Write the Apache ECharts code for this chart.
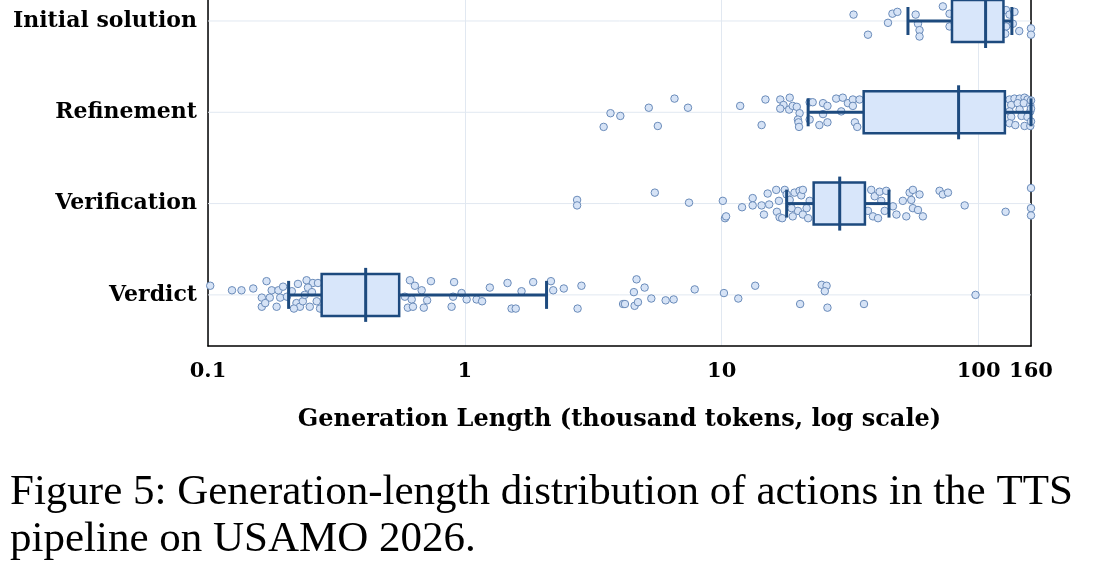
<!DOCTYPE html>
<html>
<head>
<meta charset="utf-8">
<script src="https://cdn.jsdelivr.net/npm/echarts@6/dist/echarts.min.js"></script>
<style>
    html, body { margin: 0; padding: 0; background: #fff; }
    #chart { width: 1101px; height: 567px; }
</style>
</head>
<body>
<div id="chart"></div>
<script>
// rows, bottom to top
let categories = ['Verdict', 'Verification', 'Refinement', 'Initial solution'];

// [whisker low, q1, median, q3, whisker high], thousand tokens
let verdictBox = [0.206, 0.277, 0.411, 0.555, 2.08];
let verificationBox = [17.9, 22.8, 28.8, 36.1, 44.8];
let refinementBox = [21.7, 35.7, 83.6, 126.6, 160];
let initialBox = [53.1, 78.8, 106.5, 125, 134.8];

// individual actions: [length, vertical jitter in row units]
let verdictPts = [
    [0.102, 0.10], [0.124, 0.05], [0.135, 0.05], [0.150, 0.07], [0.169, 0.15], [0.177, 0.05],
    [0.188, 0.05], [0.162, -0.03], [0.174, -0.03], [0.162, -0.13], [0.185, -0.13], [0.191, -0.03],
    [0.196, 0.09], [0.212, 0.04], [0.221, -0.09], [0.228, -0.13], [0.242, 0.16], [0.256, 0.13],
    [0.245, 0.08], [0.234, -0.07], [0.249, -0.13], [0.265, -0.07], [0.268, 0.13], [0.167, -0.09],
    [0.203, -0.02], [0.216, -0.15], [0.224, 0.12], [0.238, 0.00], [0.254, 0.03], [0.273, -0.15],
    [0.326, 0.12], [0.467, -0.11],
    [0.611, 0.16], [0.639, 0.10], [0.584, -0.02], [0.621, -0.05], [0.600, -0.14], [0.628, -0.13],
    [0.679, 0.05], [0.713, -0.06], [0.692, -0.14], [0.738, 0.15], [0.908, 0.14], [0.888, -0.13],
    [0.900, -0.02], [0.971, 0.02], [1.016, -0.05], [1.111, -0.05], [1.167, -0.07], [1.251, 0.08],
    [1.466, 0.13], [1.520, -0.15], [1.578, -0.15], [1.662, 0.04], [1.845, 0.14], [2.163, 0.15],
    [2.208, 0.05], [2.428, 0.07], [2.844, 0.10], [2.747, -0.15], [4.13, -0.10], [4.66, 0.17],
    [5.01, 0.08], [4.55, 0.03], [4.20, -0.10], [4.58, -0.12], [4.72, -0.08], [5.32, -0.04],
    [6.05, -0.06], [6.50, -0.05], [7.85, 0.06], [10.2, 0.02], [11.6, -0.04], [13.5, 0.10],
    [20.2, -0.10], [24.5, 0.11], [25.6, 0.10], [25.2, 0.04], [25.8, -0.14], [35.8, -0.10],
    [97.3, 0.00]
];
let verificationPts = [
    [2.735, 0.04], [2.735, -0.02], [5.49, 0.12], [7.46, 0.01], [10.1, 0.03], [10.3, -0.16],
    [10.4, -0.14], [12.0, -0.04], [13.2, 0.06], [13.2, -0.02], [14.3, -0.02], [14.6, -0.12],
    [15.1, 0.11], [15.3, -0.01], [16.3, 0.15], [16.4, -0.09], [16.8, -0.15], [17.2, -0.16],
    [16.7, 0.03], [17.6, 0.15], [17.9, 0.10], [18.4, 0.04], [19.2, 0.12], [20.1, 0.14],
    [20.4, 0.09], [20.7, 0.15], [19.8, -0.08], [20.7, -0.12], [21.4, -0.05], [22.0, 0.03],
    [21.7, -0.16], [18.9, -0.14], [18.7, -0.05],
    [38.2, 0.15], [39.4, 0.08], [41.2, 0.13], [37.1, -0.08], [38.8, -0.14], [40.6, -0.16],
    [43.1, -0.08], [41.8, 0.03], [43.7, 0.14], [46.4, -0.03], [47.9, -0.12], [50.7, 0.03],
    [52.3, -0.14], [53.9, 0.12], [55.5, 0.15], [58.9, 0.10], [55.5, -0.05], [58.1, -0.07],
    [60.7, -0.14], [54.7, 0.04], [70.5, 0.14], [72.6, 0.10], [76.0, 0.12], [88.3, -0.02],
    [127.4, -0.09], [160, 0.17], [160, -0.05], [160, -0.13]
];
let refinementPts = [
    [3.47, -0.16], [3.69, -0.01], [4.03, -0.04], [5.20, 0.05], [5.64, -0.15], [6.55, 0.15],
    [7.39, 0.05], [11.8, 0.07], [14.3, -0.14], [14.8, 0.14], [16.9, 0.14], [18.4, 0.16],
    [17.4, 0.08], [16.9, 0.04], [18.3, 0.03], [18.9, 0.07], [19.6, 0.06], [20.1, -0.01],
    [19.8, -0.08], [19.9, -0.11], [20.0, -0.16], [22.0, 0.11], [22.6, 0.11], [22.0, -0.08],
    [24.0, -0.14], [24.8, 0.10], [25.8, 0.07], [25.8, -0.11], [24.8, -0.02], [27.9, 0.15],
    [29.6, 0.16], [31.0, 0.10], [32.4, 0.14], [32.4, 0.07], [33.0, -0.11], [33.7, -0.16],
    [29.2, 0.01], [34.4, 0.14],
    [132, 0.14], [138, 0.15], [144.5, 0.15], [151, 0.16], [155, 0.14], [134, 0.08],
    [142, 0.10], [150, 0.10], [159, 0.08], [132, 0.01], [144.5, 0.03], [159, 0.01],
    [134, -0.05], [147, -0.04], [155, -0.05], [132, -0.12], [139, -0.14], [151, -0.15],
    [159, -0.15], [160, 0.13], [160, -0.10], [160, 0.04]
];
let initialPts = [
    [32.6, 0.07], [37.1, -0.15], [44.4, -0.02], [46.2, 0.08], [48.3, 0.10], [56.9, 0.07],
    [58.1, -0.03], [58.9, -0.10], [58.9, -0.17], [72.6, 0.16], [77.1, 0.08], [77.1, -0.06],
    [128, 0.12], [132, 0.07], [138, 0.10], [128, -0.06], [136, -0.03], [144, -0.11],
    [127, -0.14], [160, -0.08], [160, -0.15]
];

let boxes = [verdictBox, verificationBox, refinementBox, initialBox];
let points = [verdictPts, verificationPts, refinementPts, initialPts];

let navy = '#1d4a7e';
let boxFill = '#d8e6fa';
let gridColor = '#e1e8f1';
let serifBold = {
    color: '#000',
    fontFamily: 'DejaVu Serif',
    fontWeight: 'bold'
};

let scatterData = [];
points.forEach((list, row) => {
    list.forEach(p => {
        scatterData.push([p[0], row + p[1]]);
    });
});

let boxData = boxes.map((b, row) => [row].concat(b));

function renderBox(params, api) {
    let row = api.value(0);
    let lo = api.coord([api.value(1), row]);
    let q1 = api.coord([api.value(2), row]);
    let med = api.coord([api.value(3), row]);
    let q3 = api.coord([api.value(4), row]);
    let hi = api.coord([api.value(5), row]);
    let y = lo[1];
    let line = (x1, y1, x2, y2) => ({
        type: 'line',
        shape: { x1: x1, y1: y1, x2: x2, y2: y2 },
        style: { stroke: navy, lineWidth: 3 }
    });
    return {
        type: 'group',
        children: [
            line(lo[0], y, q1[0], y),
            line(q3[0], y, hi[0], y),
            line(lo[0], y - 14, lo[0], y + 14),
            line(hi[0], y - 14, hi[0], y + 14),
            {
                type: 'rect',
                shape: { x: q1[0], y: y - 21, width: q3[0] - q1[0], height: 42 },
                style: { fill: boxFill, stroke: navy, lineWidth: 2.5 }
            },
            line(med[0], y - 27, med[0], y + 27)
        ]
    };
}

function renderRowLine(params, api) {
    let p = api.coord([1, api.value(0)]);
    return {
        type: 'line',
        shape: { x1: params.coordSys.x, y1: p[1], x2: params.coordSys.x + params.coordSys.width, y2: p[1] },
        style: { stroke: gridColor, lineWidth: 1 }
    };
}

let option = {
    animation: false,
    grid: {
        left: 208,
        right: 70,
        top: 0,
        bottom: 221
    },
    xAxis: {
        type: 'log',
        logBase: 10,
        min: 0.1,
        max: 160,
        name: 'Generation Length (thousand tokens, log scale)',
        nameLocation: 'middle',
        nameGap: 62,
        nameTextStyle: Object.assign({ fontSize: 24 }, serifBold),
        axisLine: {
            onZero: false,
            lineStyle: { color: '#000', width: 1.5 }
        },
        axisTick: { show: false },
        splitLine: {
            show: true,
            lineStyle: { color: gridColor, width: 1 }
        },
        axisLabel: Object.assign({ margin: 15, fontSize: 21 }, serifBold)
    },
    yAxis: [
        {
            type: 'value',
            min: -0.56,
            max: 3.23,
            axisLine: {
                show: true,
                onZero: false,
                lineStyle: { color: '#000', width: 1.5 }
            },
            axisTick: { show: false },
            splitLine: { show: false },
            axisLabel: Object.assign({
                margin: 11,
                fontSize: 22,
                customValues: [0, 1, 2, 3],
                formatter: v => categories[Math.round(v)]
            }, serifBold)
        },
        {
            type: 'value',
            position: 'right',
            min: -0.56,
            max: 3.23,
            axisLine: {
                show: true,
                onZero: false,
                lineStyle: { color: '#000', width: 1.5 }
            },
            axisTick: { show: false },
            axisLabel: { show: false },
            splitLine: { show: false }
        }
    ],
    series: [
        {
            type: 'custom',
            z: 1,
            silent: true,
            renderItem: renderRowLine,
            encode: { y: 0 },
            data: [[0], [1], [2], [3]]
        },
        {
            type: 'scatter',
            z: 2,
            symbol: 'circle',
            symbolSize: 7.5,
            itemStyle: {
                color: '#d6e3f6',
                borderColor: '#6a8bb9',
                borderWidth: 1,
                opacity: 1
            },
            data: scatterData
        },
        {
            type: 'custom',
            z: 3,
            silent: true,
            renderItem: renderBox,
            encode: { x: [1, 2, 3, 4, 5], y: 0 },
            data: boxData
        }
    ],
    graphic: [
        {
            type: 'text',
            left: 10,
            top: 471,
            style: {
                text: 'Figure 5: Generation-length distribution of actions in the TTS',
                font: '43px "Liberation Serif"',
                fill: '#000'
            }
        },
        {
            type: 'text',
            left: 10,
            top: 518,
            style: {
                text: 'pipeline on USAMO 2026.',
                font: '43px "Liberation Serif"',
                fill: '#000'
            }
        }
    ]
};

let chart = echarts.init(document.getElementById('chart'));
chart.setOption(option);
window.addEventListener('resize', function () {
    chart.resize();
});
</script>
</body>
</html>
